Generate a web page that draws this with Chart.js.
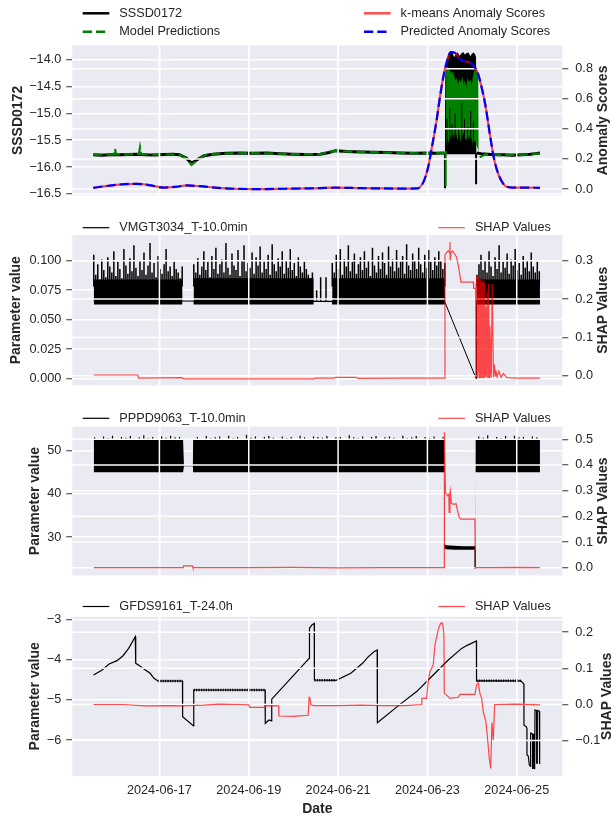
<!DOCTYPE html>
<html>
<head>
<meta charset="utf-8">
<script src="https://cdn.jsdelivr.net/npm/chart.js@4.4.1/dist/chart.umd.min.js"></script>
<style>
  html, body { margin: 0; padding: 0; background: #ffffff; overflow: hidden; }
  #wrap { position: relative; width: 611px; height: 815px; }
  #wrap canvas { position: absolute; left: 0; }
</style>
</head>
<body>
<div id="wrap">
  <canvas id="panel1" width="611" height="210" style="top:0px"></canvas>
  <canvas id="panel2" width="611" height="195" style="top:205px"></canvas>
  <canvas id="panel3" width="611" height="190" style="top:400px"></canvas>
  <canvas id="panel4" width="611" height="219" style="top:596px"></canvas>
</div>
<script>
// x values are days since 2024-06-15 00:00
const dateTickValues = [2, 4, 6, 8, 10];
const dateTickLabels = ['2024-06-17', '2024-06-19', '2024-06-21', '2024-06-23', '2024-06-25'];

// ---- panel 1 : SSSD0172 ----
const sssdTimes = [0.52, 0.7, 0.9, 1.1, 1.3, 1.5, 1.7, 1.9, 2.1, 2.3, 2.45, 2.6, 2.72, 2.85, 3.0, 3.2, 3.5, 3.8, 4.1, 4.4,
    4.7, 5.0, 5.3, 5.6, 5.8, 5.94, 6.2, 6.5, 6.8, 7.1, 7.4, 7.7, 8.0, 8.2, 8.38, 8.7,
    9.10, 9.2, 9.35, 9.5, 9.7, 9.9, 10.1, 10.3, 10.42, 10.52];
const sssdValues = [-15.77, -15.78, -15.77, -15.77, -15.765, -15.76, -15.77, -15.775, -15.765, -15.76, -15.77, -15.83, -15.93, -15.86, -15.79, -15.76, -15.745, -15.74, -15.745, -15.74,
    -15.75, -15.76, -15.765, -15.76, -15.73, -15.695, -15.71, -15.72, -15.725, -15.73, -15.74, -15.745, -15.74, -15.745, -15.74, null,
    -15.74, -15.75, -15.76, -15.77, -15.77, -15.78, -15.77, -15.76, -15.75, -15.74];
const sssdBandTimes = [8.39, 8.40, 8.43, 8.47, 8.52, 8.56, 8.60, 8.64, 8.68, 8.72, 8.76, 8.80, 8.84, 8.88, 8.92, 8.96, 9.00, 9.04, 9.07, 9.09, 9.10];
const sssdBandTop = [-15.74, -14.3, -14.0, -13.88, -13.84, -13.86, -13.95, -13.88, -13.86, -13.92, -13.88, -13.85, -13.9, -13.87, -13.86, -13.93, -13.88, -13.86, -13.9, -13.95, -15.72];
const sssdBandBottom = [-15.74, -15.76, -15.76, -15.76, -15.76, -15.76, -15.76, -15.76, -15.76, -15.76, -15.76, -15.76, -15.76, -15.76, -15.76, -15.76, -15.76, -15.76, -15.76, -15.76, -15.74];
const sssdSpikeTimes = [8.393, 9.09];
const sssdSpikeLows = [-16.42, -16.32];
const sssdStreakTimes = [8.44, 8.5, 8.55, 8.62, 8.7, 8.77, 8.83, 8.9, 8.97, 9.03];
const sssdStreakTops = [-15.1, -14.9, -15.2, -15.0, -15.3, -14.8, -15.1, -15.25, -14.95, -15.15];

const modelTimes = [0.52, 0.8, 0.98, 1.006, 1.03, 1.3, 1.54, 1.566, 1.59, 1.9, 2.2, 2.45, 2.6, 2.72, 2.85, 3.0, 3.3, 3.6, 4.0, 4.4,
    4.8, 5.2, 5.6, 5.8, 5.94, 6.3, 6.7, 7.1, 7.5, 7.9, 8.2, 8.39, 8.7, 9.17, 9.3, 9.5, 9.7, 9.9, 10.1, 10.3, 10.42, 10.52];
const modelValues = [-15.77, -15.77, -15.765, -15.66, -15.765, -15.765, -15.755, -15.63, -15.755, -15.77, -15.765, -15.77, -15.84, -15.96, -15.87, -15.78, -15.75, -15.745, -15.74, -15.745,
    -15.755, -15.76, -15.76, -15.72, -15.70, -15.715, -15.72, -15.73, -15.74, -15.745, -15.74, -15.74, null, -15.82, -15.76, -15.77, -15.78, -15.77, -15.77, -15.76, -15.75, -15.75];
const modelBandTimes = [8.41, 8.42, 8.45, 8.48, 8.51, 8.54, 8.57, 8.60, 8.63, 8.66, 8.69, 8.72, 8.75, 8.78, 8.81, 8.84, 8.87, 8.90, 8.93, 8.96, 8.99, 9.02, 9.05, 9.08, 9.11, 9.14, 9.15];
const modelBandTop = [-15.7, -14.15, -14.12, -14.18, -14.2, -14.25, -14.22, -14.3, -14.4, -14.33, -14.45, -14.35, -14.42, -14.3, -14.45, -14.38, -14.5, -14.32, -14.42, -14.35, -14.48, -14.3, -14.2, -14.17, -14.2, -14.3, -15.72];
const modelBandBottom = [-15.72, -15.6, -15.45, -15.55, -15.4, -15.5, -15.35, -15.48, -15.3, -15.45, -15.5, -15.38, -15.55, -15.42, -15.35, -15.5, -15.45, -15.58, -15.4, -15.5, -15.45, -15.6, -15.5, -15.55, -15.62, -15.68, -15.72];
const modelSpikeTimes = [8.41];
const modelSpikeLows = [-16.36];

const anomalyTimes = [0.52, 0.8, 1.1, 1.49, 1.8, 2.1, 2.35, 2.62, 2.9, 3.3, 3.67, 4.2, 4.8, 5.4, 5.94, 6.5, 7.0, 7.5, 7.77, 7.91,
    8.02, 8.10, 8.21, 8.28, 8.35, 8.43, 8.52, 8.62, 8.73, 8.84, 8.95, 9.06, 9.14, 9.21, 9.29, 9.36, 9.40, 9.45, 9.50, 9.60,
    9.70, 9.78, 9.9, 10.2, 10.52];
const kmeansScores = [0.008, 0.02, 0.03, 0.035, 0.025, 0.01, 0.014, 0.024, 0.019, 0.008, 0.002, 0.0, 0.002, 0.005, 0.009, 0.006, 0.004, 0.003, 0.004, 0.046,
    0.15, 0.277, 0.465, 0.61, 0.735, 0.84, 0.91, 0.905, 0.86, 0.85, 0.84, 0.81, 0.76, 0.68, 0.57, 0.44, 0.36, 0.27, 0.19, 0.09,
    0.035, 0.015, 0.01, 0.01, 0.008];
const predictedScores = [0.008, 0.02, 0.03, 0.035, 0.025, 0.01, 0.014, 0.024, 0.019, 0.008, 0.002, 0.0, 0.002, 0.005, 0.009, 0.006, 0.004, 0.003, 0.004, 0.046,
    0.15, 0.277, 0.465, 0.61, 0.735, 0.84, 0.91, 0.905, 0.86, 0.85, 0.84, 0.81, 0.76, 0.68, 0.57, 0.44, 0.36, 0.27, 0.19, 0.09,
    0.035, 0.015, 0.01, 0.01, 0.008];

const sssdTicks = [-16.5, -16.0, -15.5, -15.0, -14.5, -14.0];
const sssdTickLabels = ['\u221216.5', '\u221216.0', '\u221215.5', '\u221215.0', '\u221214.5', '\u221214.0'];
const anomalyTicks = [0.0, 0.2, 0.4, 0.6, 0.8];
const anomalyTickLabels = ['0.0', '0.2', '0.4', '0.6', '0.8'];

// ---- panel 2 : VMGT3034_T-10.0min ----
const vmgtSpikeStep = 0.045;
const vmgtSeg1Start = 0.53;
const vmgtSeg1Peaks = [0.105, 0.088, 0.097, 0.084, 0.101, 0.092, 0.086, 0.103, 0.095, 0.09, 0.108, 0.087, 0.099, 0.093, 0.085, 0.11, 0.096, 0.089, 0.102, 0.091,
    0.113, 0.094, 0.087, 0.1, 0.092, 0.107, 0.088, 0.096, 0.115, 0.09, 0.098, 0.086, 0.104, 0.093, 0.089, 0.097, 0.11, 0.091, 0.095, 0.087,
    0.099, 0.093, 0.09, 0.085, 0.095];
const vmgtSeg2Start = 2.77;
const vmgtSeg2Peaks = [0.097, 0.09, 0.102, 0.088, 0.095, 0.108, 0.092, 0.099, 0.086, 0.104, 0.093, 0.111, 0.089, 0.097, 0.101, 0.09, 0.115, 0.094, 0.088, 0.106,
    0.096, 0.092, 0.109, 0.087, 0.1, 0.113, 0.091, 0.098, 0.094, 0.107, 0.089, 0.103, 0.096, 0.112, 0.09, 0.099, 0.093, 0.105, 0.088, 0.114,
    0.097, 0.091, 0.102, 0.095, 0.108, 0.089, 0.1, 0.094, 0.11, 0.092, 0.098, 0.087, 0.103, 0.095, 0.09, 0.099, 0.093, 0.088, 0.085, 0.09];
const vmgtSeg3Start = 5.87;
const vmgtSeg3Peaks = [0.098, 0.09, 0.105, 0.093, 0.11, 0.088, 0.101, 0.095, 0.113, 0.091, 0.099, 0.106, 0.089, 0.097, 0.103, 0.092, 0.108, 0.094, 0.1, 0.087,
    0.111, 0.096, 0.09, 0.104, 0.093, 0.107, 0.098, 0.088, 0.112, 0.095, 0.101, 0.091, 0.109, 0.094, 0.099, 0.104, 0.089, 0.114, 0.096, 0.092,
    0.106, 0.1, 0.093, 0.111, 0.097, 0.09, 0.105, 0.094, 0.109, 0.099, 0.092, 0.103, 0.096, 0.108, 0.1, 0.093, 0.098];
const vmgtSeg4Start = 9.11;
const vmgtSeg4Peaks = [0.088, 0.097, 0.105, 0.092, 0.1, 0.09, 0.108, 0.095, 0.087, 0.103, 0.093, 0.113, 0.09, 0.099, 0.094, 0.106, 0.089, 0.101, 0.096, 0.11,
    0.092, 0.098, 0.088, 0.104, 0.094, 0.1, 0.091, 0.107, 0.095, 0.09, 0.099, 0.091];
const vmgtSparseTimes = [5.52, 5.61, 5.73];
const vmgtSparsePeaks = [0.075, 0.086, 0.086];
const vmgtBandTimes = [0.53, 2.51, 2.515, 2.765, 2.77, 5.45, 5.455, 5.865, 5.87, 8.39, 8.395, 9.095, 9.105, 10.52];
const vmgtBandTop = [0.084, 0.084, 0.066, 0.066, 0.085, 0.085, 0.066, 0.066, 0.085, 0.085, 0.065, 0.0, 0.084, 0.084];
const vmgtBandBottom = [0.0628, 0.0628, 0.066, 0.066, 0.0628, 0.0628, 0.065, 0.065, 0.0628, 0.0628, 0.065, 0.0, 0.0628, 0.0628];
const vmgtLineTimes = [0.53, 8.39, 9.09, 9.10, 10.52];
const vmgtLineValues = [0.066, 0.065, 0.0, 0.066, 0.066];

const shap2Times = [0.53, 1.52, 1.53, 2.5, 2.55, 5.45, 5.5, 5.9, 5.95, 6.4, 6.45, 7.4, 8.385, 8.393, 8.43, 8.47, 8.50, 8.505, 8.51, 8.53,
    8.56, 8.61, 8.65, 8.69, 8.745, 8.75, 8.9, 9.03, 9.035, 9.08, 9.085, 9.09, 9.10, 9.105, 9.115, 9.12, 9.13, 9.135, 9.145, 9.15,
    9.16, 9.165, 9.175, 9.18, 9.19, 9.195, 9.205, 9.21, 9.22, 9.225, 9.235, 9.24, 9.25, 9.255, 9.265, 9.27, 9.28, 9.285, 9.30, 9.31,
    9.33, 9.34, 9.36, 9.37, 9.39, 9.40, 9.43, 9.45, 9.48, 9.50, 9.52, 9.53, 9.56, 9.6, 9.65, 9.7, 9.78, 10.0, 10.52];
const shap2Values = [0.002, 0.002, -0.006, -0.005, -0.008, -0.008, -0.006, -0.006, -0.004, -0.004, -0.007, -0.006, -0.006, 0.314, 0.322, 0.326, 0.32, 0.349, 0.301, 0.32,
    0.325, 0.318, 0.31, 0.289, 0.25, 0.244, 0.244, 0.244, 0.228, 0.228, -0.007, 0.24, -0.005, 0.26, 0.0, 0.25, -0.006, 0.255, 0.01, 0.2,
    -0.005, 0.24, 0.0, 0.23, -0.006, 0.25, -0.004, 0.19, 0.0, 0.245, -0.006, 0.22, -0.005, 0.25, 0.0, 0.2, -0.005, 0.24, 0.0, 0.18,
    -0.005, 0.22, -0.004, 0.24, -0.005, 0.13, -0.004, 0.24, -0.004, 0.03, 0.0, 0.015, -0.003, 0.012, -0.004, 0.006, -0.005, -0.006, -0.006];

const vmgtTicks = [0.0, 0.025, 0.05, 0.075, 0.1];
const vmgtTickLabels = ['0.000', '0.025', '0.050', '0.075', '0.100'];
const shap2Ticks = [0.0, 0.1, 0.2, 0.3];
const shap2TickLabels = ['0.0', '0.1', '0.2', '0.3'];

// ---- panel 3 : PPPD9063_T-10.0min ----
const pppdTimes = [0.53, 2.53, 2.55, 2.75, 2.755, 8.38, 8.385, 8.42, 8.6, 8.8, 9.0, 9.075, 9.08, 10.52];
const pppdTop = [52.6, 52.6, 46.6, 46.6, 52.6, 52.6, 28.4, 28.1, 28.0, 27.9, 27.9, 27.9, 52.6, 52.6];
const pppdBottom = [45.0, 45.0, 46.4, 46.4, 45.0, 45.0, 27.3, 27.2, 27.1, 27.1, 27.1, 27.1, 45.0, 45.0];
const pppdTickStart = 0.55;
const pppdTickStep = 0.1;
const pppdTickTops = [53.1, null, 53.3, 52.9, 53.5, null, 53.2, 53.0, 53.4, null, 53.1, 53.6, 52.9, 53.2, null, 53.3, 53.0, 53.5, 53.1, 53.2,
    null, null, null,
    53.2, null, 53.4, 52.9, 53.1, 53.3, null, 53.5, 52.9, 53.2, null, 53.7, 53.0, 53.3, null, 53.2, 53.4, 53.0, null, 53.3,
    52.9, 53.2, null, 53.5, 53.1, null, 53.3, 53.2, 53.0, 53.4, null, 53.1, 53.2, null, 53.6, 53.1, 52.9, 53.3, null, 53.2,
    53.4, null, 53.1, 53.3, 53.0, null, 53.5, 52.9, 53.1, 53.4, null, 53.2, 52.9, 53.3, null, 53.2,
    null, null, null, null, null, null, null,
    53.3, 53.0, 53.6, null, 53.2, 52.9, 53.4, null, 53.5, 53.1, 53.2, null, 53.3, 53.1];
const pppdDropTimes = [9.07];
const pppdDropLows = [22.65];

const shap3Times = [0.53, 2.53, 2.54, 2.74, 2.75, 4.0, 5.0, 6.0, 7.0, 8.0, 8.375, 8.38, 8.405, 8.45, 8.48, 8.486, 8.505, 8.512, 8.538, 8.6,
    8.64, 8.661, 8.713, 8.748, 9.062, 9.075, 9.5, 10.0, 10.52];
const shap3Values = [0.0, 0.0, 0.007, 0.007, 0.0, 0.0, 0.001, -0.001, 0.0, 0.0, 0.0, 0.527, 0.293, 0.28, 0.285, 0.215, 0.29, 0.30, 0.25, 0.247,
    0.25, 0.232, 0.195, 0.189, 0.189, 0.0, 0.0, 0.001, 0.0];

const pppdTicks = [30, 40, 50];
const pppdTickLabels = ['30', '40', '50'];
const shap3Ticks = [0.0, 0.1, 0.2, 0.3, 0.4, 0.5];
const shap3TickLabels = ['0.0', '0.1', '0.2', '0.3', '0.4', '0.5'];

// ---- panel 4 : GFDS9161_T-24.0h ----
const gfdsTimes = [0.526, 0.718, 0.875, 1.050, 1.181, 1.312, 1.460, 1.470, 1.530, 1.661, 1.792, 1.879, 1.966, 2.516, 2.52, 2.764, 2.769, 4.366, 4.37, 4.454,
    4.51, 4.515, 5.353, 5.36, 5.414, 5.466, 5.47, 5.955, 6.286, 6.548, 6.679, 6.810, 6.875, 6.88, 7.386, 7.76, 8.13, 8.467, 8.767, 8.88,
    9.097, 9.10, 10.09, 10.16, 10.162, 10.206, 10.228, 10.229, 10.258, 10.281, 10.31, 10.311, 10.355, 10.356, 10.37, 10.371, 10.393, 10.394, 10.408, 10.409,
    10.445, 10.446, 10.46, 10.461, 10.505, 10.506, 10.52];
const gfdsValues = [-4.375, -4.25, -4.10, -4.017, -3.90, -3.708, -3.417, -4.083, -4.125, -4.233, -4.333, -4.458, -4.525, -4.525, -5.417, -5.65, -4.75, -4.75, -5.583, -5.5,
    -5.52, -4.98, -3.958, -3.208, -3.125, -3.083, -4.5, -4.51, -4.333, -4.083, -3.917, -3.79, -3.75, -5.567, -5.11, -4.79, -4.375, -4.0, -3.71, -3.64,
    -3.525, -4.52, -4.52, -4.6, -5.63, -5.66, -5.7, -6.375, -6.4, -6.62, -6.66, -5.83, -5.85, -6.71, -6.71, -5.86, -5.86, -6.73, -6.73, -5.25,
    -5.27, -6.58, -6.58, -5.26, -5.28, -6.6, -5.75];
const gfdsFlatStarts = [1.966, 2.769, 5.47, 9.10];
const gfdsFlatEnds = [2.516, 4.366, 5.955, 10.09];
const gfdsFlatLevels = [-4.525, -4.75, -4.505, -4.52];

const shap4Times = [0.526, 1.2, 1.66, 2.2, 2.534, 3.0, 3.319, 3.8, 4.0, 4.02, 4.36, 4.37, 4.67, 4.675, 5.0, 5.33, 5.353, 5.37, 5.39, 5.46,
    6.0, 6.5, 7.0, 7.5, 7.87, 7.875, 7.98, 8.02, 8.057, 8.13, 8.17, 8.24, 8.297, 8.34, 8.37, 8.378, 8.43, 8.505, 8.69, 8.73,
    9.065, 9.10, 9.14, 9.177, 9.215, 9.25, 9.31, 9.34, 9.385, 9.417, 9.445, 9.475, 9.506, 9.55, 10.0, 10.52];
const shap4Values = [0.0, 0.0, -0.004, -0.003, -0.004, -0.002, 0.001, 0.0, -0.001, -0.008, -0.008, -0.003, -0.004, -0.032, -0.033, -0.03, 0.02, 0.018, -0.001, -0.003,
    -0.003, -0.002, -0.003, -0.003, 0.0, 0.017, 0.017, 0.063, 0.091, 0.109, 0.165, 0.206, 0.225, 0.225, 0.193, 0.031, 0.026, 0.017, 0.02, 0.028,
    0.028, 0.054, 0.06, 0.03, 0.017, -0.02, -0.048, -0.085, -0.149, -0.177, -0.05, -0.098, 0.0, 0.0, 0.001, -0.001];

const gfdsTicks = [-6, -5, -4, -3];
const gfdsTickLabels = ['\u22126', '\u22125', '\u22124', '\u22123'];
const shap4Ticks = [-0.1, 0.0, 0.1, 0.2];
const shap4TickLabels = ['\u22120.1', '0.0', '0.1', '0.2'];

// ---------------------------------------------------------------
const FONT = '"Liberation Sans", Arial, Helvetica, sans-serif';
const TEXT = '#262626';
const SHAP_RED = 'rgba(255, 0, 0, 0.7)';
const X_MIN = 0.05, X_MAX = 11.02;
const PLOT_LEFT = 72.3, PLOT_RIGHT = 562.3;

Chart.defaults.font.family = FONT;
Chart.defaults.color = TEXT;

function pts(xs, ys) {
    return xs.map((x, i) => ({ x: x, y: ys[i] }));
}

function seq(start, step, n) {
    let out = [];
    for (let i = 0; i < n; i++) out.push(+(start + i * step).toFixed(4));
    return out;
}

// vertical strokes from base to each top, broken apart with gaps
function spikeData(xs, base, tops) {
    let out = [];
    xs.forEach((x, i) => {
        if (tops[i] === null) return;
        out.push({ x: x, y: base }, { x: x, y: tops[i] }, { x: x, y: null });
    });
    return out;
}

function segData(starts, ends, levels) {
    let out = [];
    starts.forEach((s, i) => {
        out.push({ x: s, y: levels[i] }, { x: ends[i], y: levels[i] }, { x: ends[i], y: null });
    });
    return out;
}

function lineDs(data, axis, color, width, order, extra) {
    return Object.assign({
        data: data, yAxisID: axis, borderColor: color, borderWidth: width,
        pointRadius: 0, pointHoverRadius: 0, fill: false, tension: 0, spanGaps: false, order: order
    }, extra || {});
}

// two datasets: the first fills down to the one right after it
function bandDs(xs, tops, bottoms, axis, color, order) {
    return [
        lineDs(pts(xs, tops), axis, 'rgba(0,0,0,0)', 1, order, { fill: '+1', backgroundColor: color }),
        lineDs(pts(xs, bottoms), axis, 'rgba(0,0,0,0)', 1, order + 0.1)
    ];
}

function yAxis(pos, min, max, values, labels) {
    return {
        type: 'linear', position: pos, min: min, max: max,
        afterBuildTicks: s => { s.ticks = values.map(v => ({ value: v })); },
        afterFit: s => { s.width = pos === 'left' ? PLOT_LEFT : 611 - PLOT_RIGHT; },
        grid: { color: '#ffffff', lineWidth: 1.5, drawOnChartArea: pos === 'left', drawTicks: true,
                tickLength: 6, tickColor: '#333333', tickWidth: 1 },
        border: { display: false },
        ticks: { padding: pos === 'left' ? 5 : 7, color: TEXT, font: { size: 12.7 }, autoSkip: false,
                 callback: v => labels[values.indexOf(v)] }
    };
}

function xAxis(showDates, height) {
    return {
        type: 'linear', min: X_MIN, max: X_MAX,
        afterBuildTicks: s => { s.ticks = dateTickValues.map(v => ({ value: v })); },
        afterFit: s => { s.height = height; },
        grid: { color: '#ffffff', lineWidth: 1.5, drawTicks: false },
        border: { display: false },
        ticks: { display: showDates, padding: 7, color: TEXT, font: { size: 12.7 }, autoSkip: false,
                 maxRotation: 0, minRotation: 0,
                 callback: v => dateTickLabels[dateTickValues.indexOf(v)] }
    };
}

function makePanel(canvasId, cfg) {
    const panelPlugin = {
        id: 'panelDecor',
        beforeDraw(chart) {
            const a = chart.chartArea, ctx = chart.ctx;
            ctx.save();
            ctx.fillStyle = '#EAEAF2';
            ctx.fillRect(a.left, a.top, a.right - a.left, a.bottom - a.top);
            ctx.restore();
            chart.$twinGridDone = false;
        },
        // the twin axis grid sits above the left-axis lines, below its own lines
        beforeDatasetDraw(chart, args) {
            if (chart.$twinGridDone || args.meta.yAxisID !== 'y1') return;
            chart.$twinGridDone = true;
            const a = chart.chartArea, ctx = chart.ctx, s = chart.scales.y1, xs = chart.scales.x;
            ctx.save();
            ctx.strokeStyle = '#ffffff';
            ctx.lineWidth = 1.5;
            s.ticks.forEach(t => {
                const y = s.getPixelForValue(t.value);
                ctx.beginPath(); ctx.moveTo(a.left, y); ctx.lineTo(a.right, y); ctx.stroke();
            });
            xs.ticks.forEach(t => {
                const x = xs.getPixelForValue(t.value);
                ctx.beginPath(); ctx.moveTo(x, a.top); ctx.lineTo(x, a.bottom); ctx.stroke();
            });
            ctx.restore();
        },
        afterDraw(chart) {
            const a = chart.chartArea, ctx = chart.ctx, cy = (a.top + a.bottom) / 2;
            ctx.save();
            ctx.fillStyle = TEXT;
            ctx.font = 'bold 14px ' + FONT;
            ctx.textAlign = 'center';
            ctx.textBaseline = 'middle';
            [[cfg.leftTitle, cfg.leftTitleX], [cfg.rightTitle, cfg.rightTitleX]].forEach(t => {
                ctx.save();
                ctx.translate(t[1], cy);
                ctx.rotate(-Math.PI / 2);
                ctx.fillText(t[0], 0, 0);
                ctx.restore();
            });
            if (cfg.showDates) {
                ctx.fillText('Date', (a.left + a.right) / 2, cfg.dateY);
            }
            ctx.font = '12.7px ' + FONT;
            ctx.textAlign = 'left';
            cfg.legend.forEach(it => {
                ctx.save();
                ctx.strokeStyle = it.color;
                ctx.lineWidth = it.width;
                ctx.setLineDash(it.dash || []);
                ctx.beginPath(); ctx.moveTo(it.x, it.y); ctx.lineTo(it.x + 26.6, it.y); ctx.stroke();
                ctx.restore();
                ctx.fillText(it.label, it.x + 36.6, it.y);
            });
            ctx.restore();
        }
    };

    return new Chart(document.getElementById(canvasId), {
        type: 'line',
        data: { datasets: cfg.datasets },
        options: {
            responsive: false,
            animation: false,
            devicePixelRatio: 1,
            layout: { padding: { top: cfg.padTop, bottom: cfg.padBottom, left: 0, right: 0 }, autoPadding: false },
            plugins: { legend: { display: false }, tooltip: { enabled: false } },
            scales: {
                x: xAxis(cfg.showDates, cfg.xHeight),
                y: yAxis('left', cfg.yMin, cfg.yMax, cfg.yTicks, cfg.yLabels),
                y1: yAxis('right', cfg.y1Min, cfg.y1Max, cfg.y1Ticks, cfg.y1Labels)
            }
        },
        plugins: [panelPlugin]
    });
}

const smooth = { tension: 0.4, cubicInterpolationMode: 'monotone' };
const dashed = [9.25, 4];

// panel 1
makePanel('panel1', {
    padTop: 45.5, padBottom: 6, xHeight: 0, showDates: false,
    yMin: -16.53, yMax: -13.73, yTicks: sssdTicks, yLabels: sssdTickLabels,
    y1Min: -0.042, y1Max: 0.954, y1Ticks: anomalyTicks, y1Labels: anomalyTickLabels,
    leftTitle: 'SSSD0172', leftTitleX: 18, rightTitle: 'Anomaly Scores', rightTitleX: 603,
    legend: [
        { label: 'SSSD0172', color: '#000000', width: 2.5, x: 82.7, y: 13.3 },
        { label: 'Model Predictions', color: '#008000', width: 2.5, dash: dashed, x: 82.7, y: 31.7 },
        { label: 'k-means Anomaly Scores', color: SHAP_RED, width: 2.5, x: 364, y: 13.3 },
        { label: 'Predicted Anomaly Scores', color: '#0000ff', width: 2.5, dash: dashed, x: 364, y: 31.7 }
    ],
    datasets: [
        lineDs(pts(anomalyTimes, predictedScores), 'y1', '#0000ff', 2.2, 1, Object.assign({ borderDash: dashed }, smooth)),
        lineDs(pts(anomalyTimes, kmeansScores), 'y1', SHAP_RED, 2.2, 2, smooth),
        lineDs(pts(modelTimes, modelValues), 'y', '#008000', 2.2, 5, { borderDash: dashed }),
        lineDs(spikeData(modelSpikeTimes, -15.7, modelSpikeLows), 'y', '#008000', 2, 6),
        lineDs(spikeData(sssdStreakTimes, -15.74, sssdStreakTops), 'y', '#000000', 1, 6.5),
        ...bandDs(modelBandTimes, modelBandTop, modelBandBottom, 'y', '#008000', 7),
        lineDs(spikeData(sssdSpikeTimes, -15.74, sssdSpikeLows), 'y', '#000000', 2, 8),
        ...bandDs(sssdBandTimes, sssdBandTop, sssdBandBottom, 'y', '#000000', 9),
        lineDs(pts(sssdTimes, sssdValues), 'y', '#000000', 3, 10)
    ]
});

// panel 2
const vmgtSpikes = [].concat(
    spikeData(seq(vmgtSeg1Start, vmgtSpikeStep, vmgtSeg1Peaks.length), 0.078, vmgtSeg1Peaks),
    spikeData(seq(vmgtSeg2Start, vmgtSpikeStep, vmgtSeg2Peaks.length), 0.078, vmgtSeg2Peaks),
    spikeData(vmgtSparseTimes, 0.066, vmgtSparsePeaks),
    spikeData(seq(vmgtSeg3Start, vmgtSpikeStep, vmgtSeg3Peaks.length), 0.078, vmgtSeg3Peaks),
    spikeData(seq(vmgtSeg4Start, vmgtSpikeStep, vmgtSeg4Peaks.length), 0.078, vmgtSeg4Peaks)
);
makePanel('panel2', {
    padTop: 30, padBottom: 5, xHeight: 0, showDates: false,
    yMin: -0.0058, yMax: 0.1218, yTicks: vmgtTicks, yLabels: vmgtTickLabels,
    y1Min: -0.025, y1Max: 0.367, y1Ticks: shap2Ticks, y1Labels: shap2TickLabels,
    leftTitle: 'Parameter value', leftTitleX: 16, rightTitle: 'SHAP Values', rightTitleX: 603,
    legend: [
        { label: 'VMGT3034_T-10.0min', color: '#000000', width: 1.2, x: 82.7, y: 22.7 },
        { label: 'SHAP Values', color: SHAP_RED, width: 1.2, x: 438.3, y: 22.7 }
    ],
    datasets: [
        lineDs(pts(shap2Times, shap2Values), 'y1', SHAP_RED, 1.2, 1),
        lineDs(vmgtSpikes, 'y', '#000000', 1.5, 3),
        ...bandDs(vmgtBandTimes, vmgtBandTop, vmgtBandBottom, 'y', '#000000', 4),
        lineDs(pts(vmgtLineTimes, vmgtLineValues), 'y', '#000000', 1, 5)
    ]
});

// panel 3
makePanel('panel3', {
    padTop: 26.7, padBottom: 5, xHeight: 0, showDates: false,
    yMin: 21.15, yMax: 55.57, yTicks: pppdTicks, yLabels: pppdTickLabels,
    y1Min: -0.03, y1Max: 0.549, y1Ticks: shap3Ticks, y1Labels: shap3TickLabels,
    leftTitle: 'Parameter value', leftTitleX: 35, rightTitle: 'SHAP Values', rightTitleX: 603,
    legend: [
        { label: 'PPPD9063_T-10.0min', color: '#000000', width: 1.2, x: 82.7, y: 18.3 },
        { label: 'SHAP Values', color: SHAP_RED, width: 1.2, x: 438.3, y: 18.3 }
    ],
    datasets: [
        lineDs(pts(shap3Times, shap3Values), 'y1', SHAP_RED, 1.2, 1),
        lineDs(spikeData(pppdDropTimes, 27.1, pppdDropLows), 'y', '#000000', 1.5, 2),
        lineDs(spikeData(seq(pppdTickStart, pppdTickStep, pppdTickTops.length), 52.4, pppdTickTops), 'y', '#000000', 1.2, 3),
        ...bandDs(pppdTimes, pppdTop, pppdBottom, 'y', '#000000', 4)
    ]
});

// panel 4
makePanel('panel4', {
    padTop: 20.7, padBottom: 0, xHeight: 39, showDates: true, dateY: 213,
    yMin: -6.9, yMax: -2.918, yTicks: gfdsTicks, yLabels: gfdsTickLabels,
    y1Min: -0.198, y1Max: 0.243, y1Ticks: shap4Ticks, y1Labels: shap4TickLabels,
    leftTitle: 'Parameter value', leftTitleX: 35, rightTitle: 'SHAP Values', rightTitleX: 607,
    legend: [
        { label: 'GFDS9161_T-24.0h', color: '#000000', width: 1.2, x: 82.7, y: 10.5 },
        { label: 'SHAP Values', color: SHAP_RED, width: 1.2, x: 438.3, y: 10.5 }
    ],
    datasets: [
        lineDs(pts(shap4Times, shap4Values), 'y1', SHAP_RED, 1.2, 1),
        lineDs(segData(gfdsFlatStarts, gfdsFlatEnds, gfdsFlatLevels), 'y', '#000000', 2.5, 2, { borderDash: [1.2, 1.2] }),
        lineDs(pts(gfdsTimes, gfdsValues), 'y', '#000000', 1.2, 3)
    ]
});
</script>
</body>
</html>
